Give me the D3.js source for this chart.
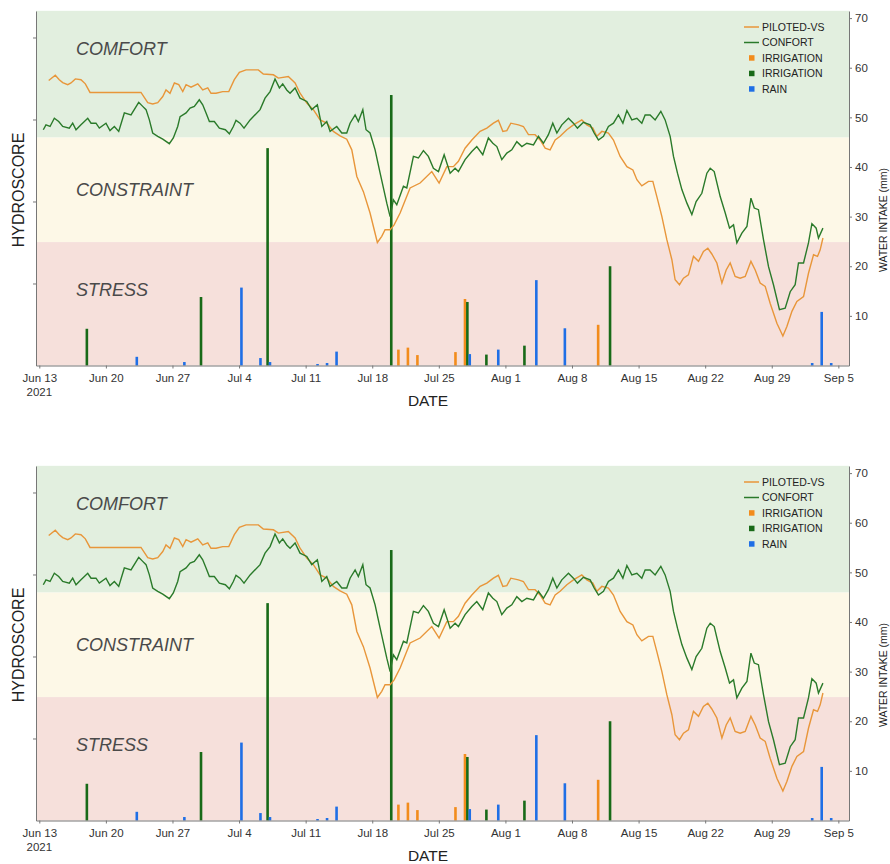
<!DOCTYPE html>
<html>
<head>
<meta charset="utf-8">
<script src="https://cdn.jsdelivr.net/npm/d3@7"></script>
<style>
  body { margin: 0; background: #fff; }
  text { font-family: "Liberation Sans", Arial, sans-serif; }
</style>
</head>
<body>
<script>
// hydroscore curves, sampled as day offsets from Jun 13 2021
const pilotedDays = [0.99,1.68,2.10,2.46,2.99,3.33,3.79,4.38,4.84,5.33,
  10.69,11.40,11.92,12.45,12.98,13.32,13.74,14.20,14.66,15.08,
  15.43,15.95,16.66,17.18,17.71,18.05,18.58,19.28,19.92,20.50,
  21.03,21.73,23.03,23.55,24.61,25.13,26.18,26.89,27.41,28.12,
  28.81,29.52,30.22,30.91,31.62,32.32,32.85,33.38,34.07,34.77,
  35.54,36.00,36.35,36.88,37.30,37.93,38.98,40.03,41.26,42.03,
  42.84,43.53,44.06,44.76,45.47,46.34,47.05,47.74,48.26,48.73,
  49.15,49.57,50.37,50.89,51.42,52.12,52.65,53.18,53.70,54.23,
  54.75,55.46,56.15,57.03,57.56,58.19,58.61,59.14,59.83,60.36,
  61.06,61.77,62.40,62.82,63.34,64.04,64.50,64.92,65.45,65.97,
  66.50,66.84,67.30,67.72,68.24,68.77,69.30,69.82,70.28,70.70,
  71.23,71.76,72.21,72.63,73.15,73.68,74.21,74.81,75.26,75.78,
  76.31,76.83,77.54,78.17,78.59,79.12,79.64,80.34,80.86,81.39,
  81.81,82.09,82.38]
const pilotedVals = [69.5,70.8,69.7,69.0,68.5,68.9,69.9,69.7,68.7,66.6,
  66.6,64.1,63.8,64.1,65.6,67.2,66.4,68.9,68.5,66.8,
  68.5,67.9,68.7,67.2,67.7,66.4,66.4,66.8,66.8,69.7,
  71.5,72.1,72.1,71.1,70.9,70.1,70.5,68.9,66.4,64.0,
  62.4,59.9,59.1,57.1,56.0,55.2,52.6,46.1,42.4,37.2,
  30.0,31.5,33.1,33.1,34.3,37.2,43.3,44.5,47.3,44.5,
  48.5,48.5,49.8,53.0,55.0,57.1,57.9,59.1,59.8,57.1,
  57.3,59.1,58.7,58.3,56.3,56.3,55.0,53.0,52.6,55.0,
  55.9,57.5,58.7,59.9,58.7,57.9,55.9,57.1,56.7,55.0,
  51.0,48.5,47.7,45.3,43.8,44.9,44.9,41.2,36.3,30.7,
  25.8,20.9,19.7,21.3,22.1,26.6,25.4,27.8,28.6,27.2,
  25.0,20.1,23.3,25.0,21.7,21.3,21.7,25.4,23.3,20.1,
  19.3,15.2,10.3,7.2,9.5,13.2,15.6,16.8,22.5,27.0,
  26.6,28.2,31.1]

const confortDays = [0.42,0.70,1.13,1.58,2.04,2.46,3.15,3.51,3.86,4.38,
  5.09,5.44,5.96,6.31,7.01,7.43,7.89,8.35,8.94,9.64,
  10.45,10.87,11.22,11.57,11.92,12.45,12.98,13.67,14.09,14.55,
  14.80,15.43,15.85,16.30,16.82,17.18,17.53,17.88,18.40,18.93,
  19.56,19.98,20.40,20.68,21.10,21.52,22.16,23.21,23.73,24.26,
  24.78,25.24,25.59,26.01,26.36,26.89,27.41,28.12,28.64,29.23,
  29.70,30.22,30.57,31.27,31.80,32.32,32.67,33.20,33.54,34.01,
  34.35,34.77,35.30,35.83,36.53,36.88,37.22,37.58,38.28,38.63,
  39.33,39.85,40.38,40.90,41.43,41.96,42.56,43.19,43.71,44.06,
  44.76,45.47,45.99,46.62,47.21,47.68,48.10,48.62,49.15,49.67,
  50.20,50.73,51.25,51.95,52.47,53.00,53.52,53.98,54.41,54.93,
  55.63,56.15,56.57,57.20,57.91,58.33,58.78,59.31,59.83,60.36,
  60.88,61.35,61.77,62.29,62.82,63.34,63.69,64.21,64.74,65.34,
  65.79,66.32,66.67,67.09,67.55,68.08,68.60,69.05,69.65,70.18,
  70.53,70.95,71.58,72.11,72.56,72.98,73.33,73.86,74.39,74.81,
  75.16,75.60,76.13,76.66,77.18,77.81,78.41,78.94,79.46,79.81,
  80.34,80.86,81.22,81.67,81.91,82.38]
const confortVals = [57.5,58.7,58.3,60.3,59.5,58.3,57.9,59.1,57.5,58.7,
  60.3,59.1,59.1,57.9,59.1,57.3,58.3,57.1,61.6,61.1,
  64.2,63.2,62.4,59.9,56.7,55.9,55.2,54.1,55.5,58.3,
  60.7,61.6,62.8,63.2,64.8,63.6,61.6,59.5,59.5,57.9,
  57.5,56.5,58.3,59.8,59.1,57.9,59.9,62.4,65.2,66.8,
  69.9,67.7,68.7,67.2,66.4,67.7,65.2,64.4,62.4,63.6,
  58.3,59.5,57.1,58.3,56.7,56.7,59.1,61.1,59.5,62.4,
  57.5,56.7,52.6,46.9,39.6,36.3,40.4,39.2,43.7,43.3,
  51.0,50.6,52.4,51.0,48.1,47.3,51.4,46.9,48.1,47.3,
  50.2,52.2,53.4,51.4,55.5,54.2,53.4,50.2,51.8,52.6,
  54.6,53.4,54.2,53.8,55.9,54.2,56.3,59.1,56.7,58.7,
  60.3,59.1,57.9,59.3,58.7,56.7,55.0,55.9,58.3,59.1,
  61.1,59.1,62.2,59.9,60.3,59.1,61.1,61.1,59.9,62.0,
  59.9,55.9,51.0,46.9,42.9,39.6,36.8,40.0,42.0,46.9,
  48.1,47.3,41.2,37.2,33.5,34.3,29.9,32.3,33.9,40.8,
  38.4,38.0,30.7,24.1,19.7,13.6,14.0,18.0,19.7,25.0,
  25.0,29.9,34.6,33.5,31.1,33.5]

// water intake bars (mm)
const irrPilotedDates = ["2021-07-21","2021-07-22","2021-07-23","2021-07-27","2021-07-28","2021-08-11"]
const irrPilotedMm = [3.2, 3.6, 2.1, 2.7, 13.4, 8.2]
const irrConfortDates = ["2021-06-18","2021-06-30","2021-07-07","2021-07-20","2021-07-28","2021-07-30","2021-08-03","2021-08-12"]
const irrConfortMm = [7.4, 13.8, 43.8, 54.5, 12.8, 2.2, 4.0, 20.0]
const rainDates = ["2021-06-23","2021-06-28","2021-07-04","2021-07-06","2021-07-07","2021-07-12","2021-07-13","2021-07-14",
  "2021-07-28","2021-07-31","2021-08-04","2021-08-07","2021-09-02","2021-09-03","2021-09-04"]
const rainMm = [1.75, 0.7, 15.7, 1.5, 0.7, 0.3, 0.5, 2.8, 2.3, 3.2, 17.2, 7.5, 0.5, 10.8, 0.5]

// hydroscore zones
const zoneNames = ["COMFORT", "CONSTRAINT", "STRESS"]
const zoneTops = [86.5, 55.6, 30.1]
const zoneBottoms = [55.6, 30.1, 0]

const tickDates = ["2021-06-13","2021-06-20","2021-06-27","2021-07-04","2021-07-11","2021-07-18",
  "2021-07-25","2021-08-01","2021-08-08","2021-08-15","2021-08-22","2021-08-29","2021-09-05"]
const rightTicks = [10, 20, 30, 40, 50, 60, 70]
const leftTicks = [20, 40, 60, 80]

const legendLabels = ["PILOTED-VS", "CONFORT", "IRRIGATION", "IRRIGATION", "RAIN"]

// --- layout
const width = 890, height = 864
const plotLeft = 36, plotRight = 849, plotTop = 11, plotBottom = 365.5
const panelOffset = 455

const parse = d3.timeParse("%Y-%m-%d")
const start = parse("2021-06-13")
const dayToDate = d => new Date(start.getTime() + d * 864e5)

const colOrangeLine = "#e8963a", colGreenLine = "#2a7a2a"
const colOrangeBar = "#f28c1c", colGreenBar = "#186a18", colBlue = "#1f6fe6"
const zoneColors = ["#e2efdf", "#fdf8e7", "#f6e0db"]

const x = d3.scaleTime()
  .domain([dayToDate(-0.347), dayToDate(85.12)])
  .range([plotLeft, plotRight])
const yL = d3.scaleLinear().domain([0, 86.46]).range([plotBottom, plotTop])
const yR = d3.scaleLinear().domain([0, 71.43]).range([plotBottom, plotTop])

const svg = d3.select("body").append("svg")
  .attr("width", width).attr("height", height)

function drawPanel(g) {
  // zones
  g.selectAll("rect.zone").data(zoneNames).enter().append("rect")
    .attr("x", plotLeft).attr("width", plotRight - plotLeft)
    .attr("y", (d, i) => yL(zoneTops[i]))
    .attr("height", (d, i) => yL(zoneBottoms[i]) - yL(zoneTops[i]))
    .attr("fill", (d, i) => zoneColors[i])

  const labelY = [55, 196, 296]
  g.selectAll("text.zone").data(zoneNames).enter().append("text")
    .attr("x", 76).attr("y", (d, i) => labelY[i])
    .attr("font-size", 18).attr("font-style", "italic")
    .attr("fill", "#4a4a4a").text(d => d)

  // bars
  const barW = 2.6
  const bars = [
    { dates: irrPilotedDates, mm: irrPilotedMm, shift: -0.25, color: colOrangeBar },
    { dates: irrConfortDates, mm: irrConfortMm, shift: 0, color: colGreenBar },
    { dates: rainDates, mm: rainMm, shift: 0.25, color: colBlue }
  ]
  bars.forEach(s => {
    g.append("g").selectAll("rect").data(s.dates).enter().append("rect")
      .attr("x", d => x(new Date(parse(d).getTime() + s.shift * 864e5)) - barW / 2)
      .attr("width", barW)
      .attr("y", (d, i) => yR(s.mm[i]))
      .attr("height", (d, i) => yR(0) - yR(s.mm[i]))
      .attr("fill", s.color)
  })

  // lines
  const line = d3.line().x(d => x(dayToDate(d[0]))).y(d => yL(d[1]))
  g.append("path")
    .datum(pilotedDays.map((d, i) => [d, pilotedVals[i]]))
    .attr("d", line).attr("fill", "none")
    .attr("stroke", colOrangeLine).attr("stroke-width", 1.4)
  g.append("path")
    .datum(confortDays.map((d, i) => [d, confortVals[i]]))
    .attr("d", line).attr("fill", "none")
    .attr("stroke", colGreenLine).attr("stroke-width", 1.4)

  // axes
  const xAxis = d3.axisBottom(x)
    .tickValues(tickDates.map(parse))
    .tickFormat(d3.timeFormat("%b %-d"))
    .tickSize(3).tickSizeOuter(0)
  const gx = g.append("g").attr("transform", `translate(0,${plotBottom})`).call(xAxis)
  gx.select(".domain").attr("stroke", "#777")
  gx.selectAll(".tick line").attr("stroke", "#777")
  gx.selectAll(".tick text").attr("font-size", 11.5).attr("fill", "#333")
    .attr("font-family", '"Liberation Sans", Arial, sans-serif').attr("dy", "0.9em")
  gx.append("text").attr("x", x(parse(tickDates[0]))).attr("y", 30)
    .attr("text-anchor", "middle").attr("font-size", 11.5).attr("fill", "#333").text("2021")

  const gl = g.append("g").attr("transform", `translate(${plotLeft},0)`)
    .call(d3.axisLeft(yL).tickValues(leftTicks).tickFormat("").tickSize(3).tickSizeOuter(0))
  gl.select(".domain").attr("stroke", "#777")
  gl.selectAll(".tick line").attr("stroke", "#777")

  const gr = g.append("g").attr("transform", `translate(${plotRight},0)`)
    .call(d3.axisRight(yR).tickValues(rightTicks).tickSize(3).tickSizeOuter(0))
  gr.select(".domain").attr("stroke", "#777")
  gr.selectAll(".tick line").attr("stroke", "#777")
  gr.selectAll(".tick text").attr("font-size", 11.5).attr("fill", "#333")
    .attr("font-family", '"Liberation Sans", Arial, sans-serif')

  // axis titles
  g.append("text").attr("transform", `translate(24,190) rotate(-90)`)
    .attr("text-anchor", "middle").attr("font-size", 16).attr("fill", "#222").text("HYDROSCORE")
  g.append("text").attr("x", 428).attr("y", 406)
    .attr("text-anchor", "middle").attr("font-size", 15.5).attr("fill", "#222").text("DATE")
  g.append("text").attr("transform", `translate(887,220) rotate(-90)`)
    .attr("text-anchor", "middle").attr("font-size", 10.5).attr("fill", "#222").text("WATER INTAKE (mm)")

  // legend
  const legendColors = [colOrangeLine, colGreenLine, colOrangeBar, colGreenBar, colBlue]
  const lg = g.append("g")
  legendLabels.forEach((lab, i) => {
    const cy = 27 + i * 15.5
    if (i < 2) {
      lg.append("line").attr("x1", 744).attr("x2", 759).attr("y1", cy).attr("y2", cy)
        .attr("stroke", legendColors[i]).attr("stroke-width", 1.5)
    } else {
      lg.append("rect").attr("x", 749).attr("y", cy - 2.8).attr("width", 5.5).attr("height", 5.5)
        .attr("fill", legendColors[i])
    }
    lg.append("text").attr("x", 762).attr("y", cy + 3.8)
      .attr("font-size", 10.5).attr("fill", "#222").text(lab)
  })
}

drawPanel(svg.append("g"))
drawPanel(svg.append("g").attr("transform", `translate(0,${panelOffset})`))
</script>
</body>
</html>
